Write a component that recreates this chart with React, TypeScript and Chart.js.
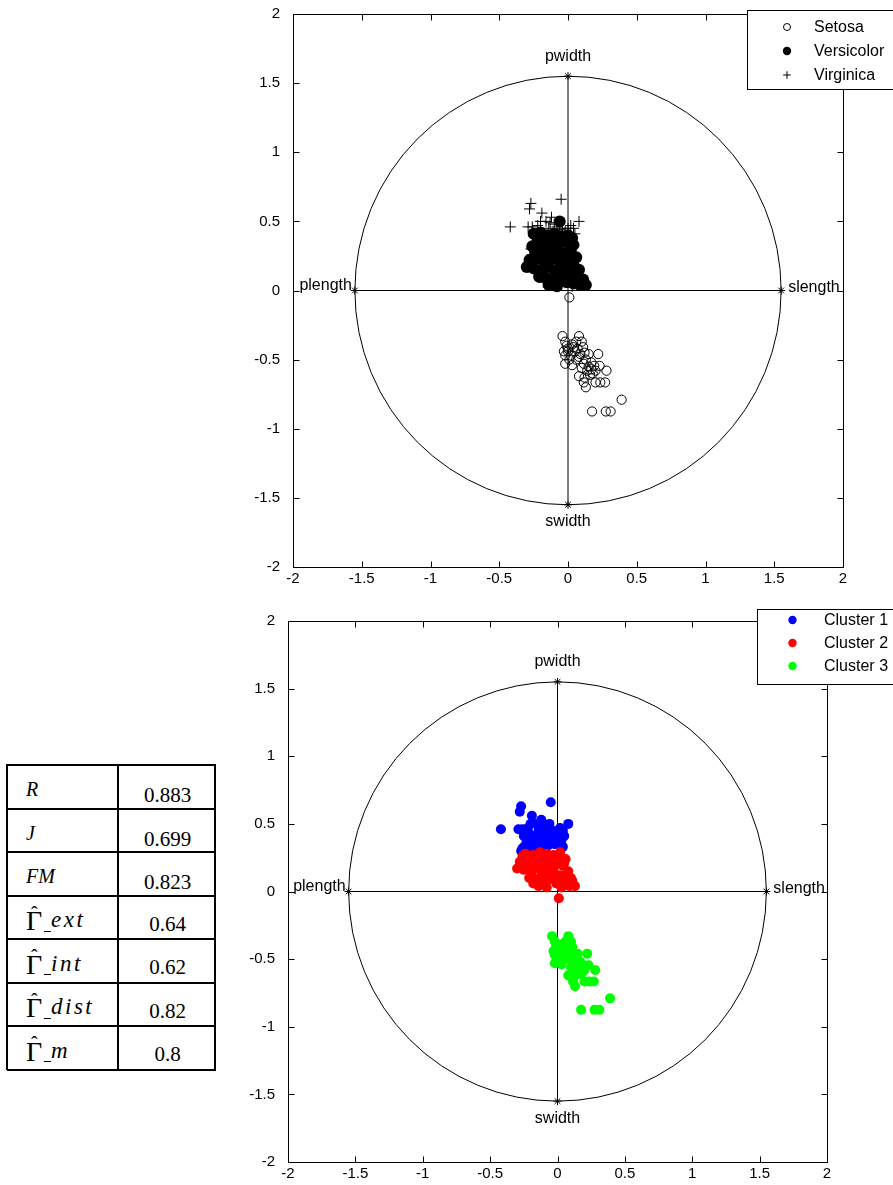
import React, { useEffect, useRef } from "react";
import { Chart, registerables } from "chart.js";

Chart.register(...registerables);

// Tick positions and labels shared by both panels
const tickValues = [-2, -1.5, -1, -0.5, 0, 0.5, 1, 1.5, 2];
const tickLabels = ["-2", "-1.5", "-1", "-0.5", "0", "0.5", "1", "1.5", "2"];

// Star-coordinate anchors, one per iris attribute
const anchorNames = ["slength", "swidth", "plength", "pwidth"];
const anchorX = [1.55, 0, -1.55, 0];
const anchorY = [0, -1.55, 0, 1.55];
const anchorRadius = 1.55;

type Pt = [number, number];

// Projected samples, grouped so that species and clusters can be assembled from them
const setosaMain: Pt[] = [
  [-0.04, -0.33], [0.08, -0.33], [-0.02, -0.37], [0.03, -0.39], [0.06, -0.37],
  [0.1, -0.37], [0.0, -0.42], [0.05, -0.44], [0.07, -0.42], [0.09, -0.46],
  [-0.02, -0.47], [0.02, -0.47], [0.08, -0.48], [0.15, -0.46], [0.22, -0.46],
  [-0.02, -0.53], [0.03, -0.54], [0.115, -0.53], [0.19, -0.545], [0.23, -0.545],
  [0.17, -0.57], [0.2, -0.58], [0.28, -0.58], [0.08, -0.62], [0.12, -0.63],
  [0.18, -0.6], [0.115, -0.665], [0.2, -0.665], [0.235, -0.665], [0.27, -0.665],
  [0.13, -0.7], [0.39, -0.79], [0.175, -0.875], [0.275, -0.875], [0.31, -0.875],
  [0.0, -0.44], [0.04, -0.41], [0.13, -0.5], [0.15, -0.55], [0.16, -0.61],
  [0.1, -0.56], [0.06, -0.5], [0.17, -0.52], [-0.01, -0.4], [0.12, -0.45],
  [0.14, -0.58], [-0.03, -0.44], [0.01, -0.5], [0.11, -0.41],
];
const setosaStray: Pt[] = [[0.01, -0.05]];

const versicolorHigh: Pt[] = [
  [-0.25, 0.41], [-0.2, 0.42], [-0.15, 0.4], [-0.1, 0.41], [-0.05, 0.39],
  [0.0, 0.4], [0.03, 0.38], [-0.22, 0.36], [-0.17, 0.35], [-0.12, 0.36],
  [-0.07, 0.34], [-0.02, 0.35], [0.04, 0.33], [-0.26, 0.32], [-0.19, 0.31],
  [-0.06, 0.5],
];
const versicolorLow: Pt[] = [
  [-0.24, 0.28], [-0.18, 0.27], [-0.13, 0.29], [-0.08, 0.28], [-0.03, 0.27],
  [0.02, 0.29], [0.06, 0.24], [-0.28, 0.22], [-0.21, 0.23], [-0.16, 0.21],
  [-0.11, 0.23], [-0.06, 0.21], [-0.01, 0.22], [0.04, 0.19], [0.08, 0.15],
  [-0.3, 0.17], [-0.25, 0.16], [-0.19, 0.15], [-0.14, 0.17], [-0.09, 0.14],
  [-0.03, 0.15], [0.02, 0.12], [0.06, 0.1], [0.11, 0.08], [-0.21, 0.1],
  [-0.16, 0.09], [-0.11, 0.07], [-0.06, 0.09], [-0.01, 0.06], [0.04, 0.05],
  [0.09, 0.04], [0.13, 0.04], [-0.14, 0.04], [-0.08, 0.03],
];

const virginicaHigh: Pt[] = [
  [-0.05, 0.66], [-0.27, 0.63], [-0.28, 0.59], [-0.19, 0.56], [-0.12, 0.53],
  [-0.42, 0.46], [-0.29, 0.46], [-0.26, 0.46], [-0.2, 0.5], [-0.16, 0.5],
  [-0.13, 0.49], [-0.08, 0.46], [-0.04, 0.45], [0.0, 0.45], [0.04, 0.45],
  [0.08, 0.5], [-0.22, 0.47], [-0.1, 0.48], [-0.02, 0.43], [0.02, 0.47],
  [-0.14, 0.45], [-0.06, 0.44], [-0.27, 0.3], [-0.23, 0.38], [-0.18, 0.4],
  [-0.11, 0.38], [-0.04, 0.37], [0.01, 0.36], [-0.15, 0.33], [-0.09, 0.32],
  [-0.24, 0.34], [0.05, 0.41],
];
const virginicaLow: Pt[] = [
  [-0.2, 0.26], [-0.12, 0.25], [-0.05, 0.24], [0.0, 0.25], [-0.17, 0.19],
  [-0.08, 0.18], [-0.02, 0.19], [0.05, 0.21], [-0.23, 0.2], [-0.12, 0.12],
  [0.0, 0.1], [0.07, 0.13], [-0.26, 0.26], [-0.04, 0.12], [0.09, 0.07],
  [-0.18, 0.06], [0.03, 0.03], [0.1, 0.1],
];

const speciesNames = ["Setosa", "Versicolor", "Virginica"];
const clusterNames = ["Cluster 1", "Cluster 2", "Cluster 3"];
const clusterColors = ["#0000ff", "#ff0000", "#00ff00"];

// Validity indices listed beside the clustering result
const indexNames = ["R", "J", "FM", "ext", "int", "dist", "m"];
const indexValues = ["0.883", "0.699", "0.823", "0.64", "0.62", "0.82", "0.8"];

const SANS = '"Liberation Sans", Arial, Helvetica, sans-serif';
const SERIF = '"Liberation Serif", "Times New Roman", serif';

const toXY = (pts: Pt[]) => pts.map(([x, y]) => ({ x, y }));

type LegendRow = { label: string; style: "open" | "filled" | "plus"; color: string; r: number };
type LegendCfg = { left: number; top: number; height: number; markerX: number; textX: number; rows: number[]; entries: LegendRow[] };

const labelPlacement: { align: CanvasTextAlign; dx: number; dy: number }[] = [
  { align: "left", dx: 7, dy: -3 },
  { align: "center", dx: 0, dy: 17 },
  { align: "right", dx: -3, dy: -5 },
  { align: "center", dx: 0, dy: -20 },
];

function drawMarker(ctx: CanvasRenderingContext2D, row: LegendRow, x: number, y: number) {
  ctx.save();
  ctx.lineWidth = 1;
  ctx.strokeStyle = row.color;
  ctx.fillStyle = row.color;
  if (row.style === "plus") {
    ctx.beginPath();
    ctx.moveTo(x - row.r, y);
    ctx.lineTo(x + row.r, y);
    ctx.moveTo(x, y - row.r);
    ctx.lineTo(x, y + row.r);
    ctx.stroke();
  } else {
    ctx.beginPath();
    ctx.arc(x, y, row.r, 0, Math.PI * 2);
    if (row.style === "filled") ctx.fill();
    else ctx.stroke();
  }
  ctx.restore();
}

const starFrame = {
  id: "starFrame",
  beforeDatasetsDraw(chart: any) {
    const { ctx, scales } = chart;
    const xs = scales.x;
    const ys = scales.y;
    ctx.save();
    ctx.strokeStyle = "#000";
    ctx.lineWidth = 1;
    const cx = xs.getPixelForValue(0);
    const cy = ys.getPixelForValue(0);
    const rx = xs.getPixelForValue(anchorRadius) - cx;
    const ry = cy - ys.getPixelForValue(anchorRadius);
    ctx.beginPath();
    ctx.ellipse(cx, cy, rx, ry, 0, 0, Math.PI * 2);
    ctx.stroke();
    ctx.restore();
  },
  afterDraw(chart: any, _args: any, opts: any) {
    const { ctx, chartArea: a, scales } = chart;
    const xs = scales.x;
    const ys = scales.y;
    ctx.save();
    ctx.strokeStyle = "#000";
    ctx.lineWidth = 1;
    const L = Math.round(a.left) + 0.5;
    const R = Math.round(a.right) + 0.5;
    const T = Math.round(a.top) + 0.5;
    const B = Math.round(a.bottom) + 0.5;
    ctx.strokeRect(L, T, R - L, B - T);
    const tl = 6;
    ctx.beginPath();
    tickValues.forEach((v) => {
      const px = Math.round(xs.getPixelForValue(v)) + 0.5;
      ctx.moveTo(px, B);
      ctx.lineTo(px, B - tl);
      ctx.moveTo(px, T);
      ctx.lineTo(px, T + tl);
      const py = Math.round(ys.getPixelForValue(v)) + 0.5;
      ctx.moveTo(L, py);
      ctx.lineTo(L + tl, py);
      ctx.moveTo(R, py);
      ctx.lineTo(R - tl, py);
    });
    ctx.stroke();

    // anchor names
    ctx.fillStyle = "#000";
    ctx.font = `16px ${SANS}`;
    ctx.textBaseline = "middle";
    anchorNames.forEach((name, i) => {
      const p = labelPlacement[i];
      ctx.textAlign = p.align;
      ctx.fillText(name, xs.getPixelForValue(anchorX[i]) + p.dx, ys.getPixelForValue(anchorY[i]) + p.dy);
    });

    // legend box
    const lg: LegendCfg = opts.legend;
    ctx.fillStyle = "#fff";
    ctx.fillRect(lg.left, lg.top, chart.width - lg.left + 4, lg.height);
    ctx.strokeRect(lg.left + 0.5, lg.top + 0.5, chart.width, lg.height);
    ctx.font = `16px ${SANS}`;
    ctx.textAlign = "left";
    lg.entries.forEach((row, i) => {
      drawMarker(ctx, row, lg.markerX, lg.rows[i]);
      ctx.fillStyle = "#000";
      ctx.fillText(row.label, lg.textX, lg.rows[i] + 1);
    });
    ctx.restore();
  },
};

type PanelProps = {
  left: number;
  top: number;
  width: number;
  height: number;
  area: { left: number; right: number; top: number; bottom: number };
  datasets: any[];
  legend: LegendCfg;
};

function anchorAxis(a: number, b: number) {
  return {
    data: [
      { x: anchorX[a], y: anchorY[a] },
      { x: anchorX[b], y: anchorY[b] },
    ],
    showLine: true,
    borderColor: "#000",
    borderWidth: 1,
    pointStyle: "star",
    pointRadius: 4,
    pointBorderColor: "#000",
    pointBorderWidth: 1,
    pointBackgroundColor: "#000",
    order: 10,
  };
}

function StarPanel({ left, top, width, height, area, datasets, legend }: PanelProps) {
  const ref = useRef<HTMLCanvasElement>(null);
  useEffect(() => {
    if (!ref.current) return;
    const tickFont = { family: SANS, size: 15 };
    const chart = new Chart(ref.current, {
      type: "scatter",
      data: { datasets: [anchorAxis(2, 0), anchorAxis(1, 3), ...datasets] },
      options: {
        animation: false,
        responsive: false,
        maintainAspectRatio: false,
        events: [],
        layout: { padding: { left: 0, right: width - area.right, top: area.top, bottom: 0 } },
        plugins: { legend: { display: false }, tooltip: { enabled: false }, starFrame: { legend } } as any,
        scales: {
          x: {
            type: "linear",
            min: -2,
            max: 2,
            grid: { display: false },
            border: { display: false },
            afterBuildTicks: (s: any) => {
              s.ticks = tickValues.map((value) => ({ value }));
            },
            afterFit: (s: any) => {
              s.height = height - area.bottom;
            },
            ticks: {
              autoSkip: false,
              maxRotation: 0,
              padding: -5,
              color: "#000",
              font: tickFont,
              callback: (_v: any, i: number) => tickLabels[i],
            },
          },
          y: {
            type: "linear",
            min: -2,
            max: 2,
            grid: { display: false },
            border: { display: false },
            afterBuildTicks: (s: any) => {
              s.ticks = tickValues.map((value) => ({ value }));
            },
            afterFit: (s: any) => {
              s.width = area.left;
            },
            ticks: {
              autoSkip: false,
              padding: 5,
              color: "#000",
              font: tickFont,
              callback: (_v: any, i: number) => tickLabels[i],
            },
          },
        },
      },
      plugins: [starFrame],
    });
    return () => chart.destroy();
  }, []);
  return (
    <canvas
      ref={ref}
      width={width}
      height={height}
      style={{ position: "absolute", left, top, width, height, display: "block" }}
    />
  );
}

// Absolutely placed text helper: baseline measured from the row's top edge
function Txt({ x, base, size, italic, children, extra }: any) {
  return (
    <span
      style={{
        position: "absolute",
        left: x,
        top: base - 0.8375 * size,
        fontSize: size,
        lineHeight: `${size}px`,
        fontStyle: italic ? "italic" : "normal",
        whiteSpace: "nowrap",
        ...extra,
      }}
    >
      {children}
    </span>
  );
}

function IndexTable() {
  const rowH = 43.5;
  const colX = 111;
  const w = 208;
  const h = rowH * indexNames.length;
  return (
    <div
      style={{
        position: "absolute",
        left: 7,
        top: 765,
        width: w,
        height: h,
        fontFamily: SERIF,
        color: "#000",
      }}
    >
      {indexNames.map((name, i) => {
        const y = i * rowH;
        const isGamma = i >= 3;
        return (
          <div key={name} style={{ position: "absolute", left: 0, top: y, width: w, height: rowH }}>
            {isGamma ? (
              <>
                <Txt x={19} base={35} size={28}>Γ</Txt>
                <Txt x={24} base={25} size={20}>ˆ</Txt>
                <div style={{ position: "absolute", left: 37, top: 35, width: 7, height: 1, background: "#000" }} />
                <Txt x={44} base={32} size={23} italic extra={{ letterSpacing: 2.5 }}>
                  {name}
                </Txt>
              </>
            ) : (
              <Txt x={19} base={31} size={20} italic>
                {name}
              </Txt>
            )}
            <Txt x={colX + 1} base={isGamma ? 36 : 38} size={21} extra={{ width: w - colX, textAlign: "center" }}>
              {indexValues[i]}
            </Txt>
          </div>
        );
      })}
      {/* grid lines */}
      {Array.from({ length: indexNames.length + 1 }, (_, i) => (
        <div
          key={`h${i}`}
          style={{ position: "absolute", left: 0, top: Math.round(i * rowH) - 1, width: w + 1, height: 2, background: "#000" }}
        />
      ))}
      <div style={{ position: "absolute", left: -1, top: -1, width: 2, height: h + 1, background: "#000" }} />
      <div style={{ position: "absolute", left: colX - 1, top: -1, width: 2, height: h + 1, background: "#000" }} />
      <div style={{ position: "absolute", left: w - 1, top: -1, width: 2, height: h + 1, background: "#000" }} />
    </div>
  );
}

export default function App() {
  const speciesSets = [
    {
      label: speciesNames[0],
      data: toXY([...setosaMain, ...setosaStray]),
      pointStyle: "circle",
      pointRadius: 4.6,
      pointBorderWidth: 1,
      pointBorderColor: "#000",
      pointBackgroundColor: "rgba(0,0,0,0)",
      order: 3,
    },
    {
      label: speciesNames[1],
      data: toXY([...versicolorHigh, ...versicolorLow]),
      pointStyle: "circle",
      pointRadius: 6,
      pointBorderWidth: 0,
      pointBorderColor: "#000",
      pointBackgroundColor: "#000",
      order: 2,
    },
    {
      label: speciesNames[2],
      data: toXY([...virginicaHigh, ...virginicaLow]),
      pointStyle: "cross",
      pointRadius: 5.5,
      pointBorderWidth: 1,
      pointBorderColor: "#000",
      pointBackgroundColor: "#000",
      order: 1,
    },
  ];
  const clusterPoints = [
    [...versicolorHigh, ...virginicaHigh],
    [...versicolorLow, ...virginicaLow, ...setosaStray],
    setosaMain,
  ];
  const clusterSets = clusterPoints.map((pts, i) => ({
    label: clusterNames[i],
    data: toXY(pts),
    pointStyle: "circle",
    pointRadius: 5,
    pointBorderWidth: 0,
    pointBackgroundColor: clusterColors[i],
    pointBorderColor: clusterColors[i],
    order: i === 1 ? 1 : 2,
  }));

  const speciesLegend: LegendCfg = {
    left: 507,
    top: 10,
    height: 79,
    markerX: 547,
    textX: 574,
    rows: [27, 51, 75],
    entries: [
      { label: speciesNames[0], style: "open", color: "#000", r: 3.5 },
      { label: speciesNames[1], style: "filled", color: "#000", r: 4.2 },
      { label: speciesNames[2], style: "plus", color: "#000", r: 3.8 },
    ],
  };
  const clusterLegend: LegendCfg = {
    left: 517,
    top: 14,
    height: 75,
    markerX: 552.5,
    textX: 584,
    rows: [25, 48, 71],
    entries: clusterNames.map((label, i) => ({ label, style: "filled" as const, color: clusterColors[i], r: 4.2 })),
  };

  return (
    <div style={{ position: "absolute", left: 0, top: 0, width: 893, height: 1185, background: "#fff", overflow: "hidden" }}>
      <StarPanel
        left={240}
        top={0}
        width={653}
        height={600}
        area={{ left: 53, right: 603, top: 12, bottom: 567 }}
        datasets={speciesSets}
        legend={speciesLegend}
      />
      <StarPanel
        left={240}
        top={595}
        width={653}
        height={590}
        area={{ left: 48, right: 587, top: 26, bottom: 567 }}
        datasets={clusterSets}
        legend={clusterLegend}
      />
      <IndexTable />
    </div>
  );
}
